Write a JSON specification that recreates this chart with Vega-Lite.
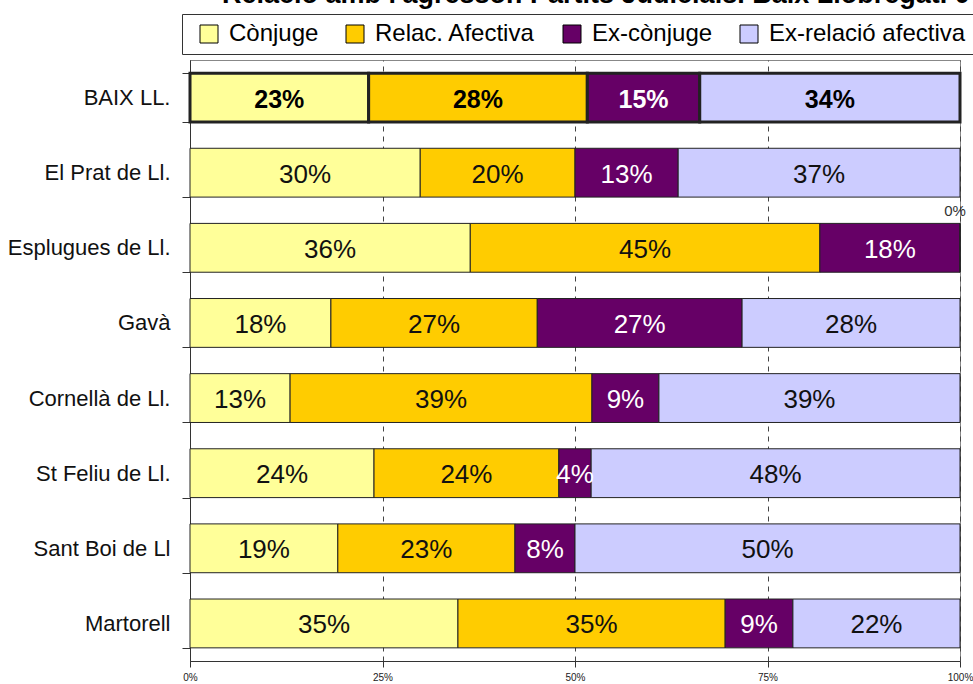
{
  "$schema": "https://vega.github.io/schema/vega-lite/v6.json",
  "width": 770,
  "height": 601,
  "autosize": {"type": "none"},
  "padding": {"left": 190, "top": 60, "right": 13, "bottom": 23},
  "background": "white",
  "title": {
    "text": "Relació amb l'agressor. Partits Judicials. Baix Llobregat. 07",
    "anchor": "start",
    "frame": "group",
    "orient": "top",
    "offset": 0,
    "dx": 32,
    "dy": 16,
    "font": "Liberation Sans, Arial, sans-serif",
    "fontSize": 27,
    "fontWeight": "bold",
    "color": "#000",
    "baseline": "alphabetic"
  },
  "data": {
    "values": [
      {"region": "BAIX LL.", "cat": "Cònjuge", "k": 1, "value": 0.232},
      {"region": "BAIX LL.", "cat": "Relac. Afectiva", "k": 2, "value": 0.284},
      {"region": "BAIX LL.", "cat": "Ex-cònjuge", "k": 3, "value": 0.146},
      {"region": "BAIX LL.", "cat": "Ex-relació afectiva", "k": 4, "value": 0.338},
      {"region": "El Prat de Ll.", "cat": "Cònjuge", "k": 1, "value": 0.299},
      {"region": "El Prat de Ll.", "cat": "Relac. Afectiva", "k": 2, "value": 0.201},
      {"region": "El Prat de Ll.", "cat": "Ex-cònjuge", "k": 3, "value": 0.134},
      {"region": "El Prat de Ll.", "cat": "Ex-relació afectiva", "k": 4, "value": 0.366},
      {"region": "Esplugues de Ll.", "cat": "Cònjuge", "k": 1, "value": 0.364},
      {"region": "Esplugues de Ll.", "cat": "Relac. Afectiva", "k": 2, "value": 0.454},
      {"region": "Esplugues de Ll.", "cat": "Ex-cònjuge", "k": 3, "value": 0.182},
      {"region": "Esplugues de Ll.", "cat": "Ex-relació afectiva", "k": 4, "value": 0},
      {"region": "Gavà", "cat": "Cònjuge", "k": 1, "value": 0.183},
      {"region": "Gavà", "cat": "Relac. Afectiva", "k": 2, "value": 0.268},
      {"region": "Gavà", "cat": "Ex-cònjuge", "k": 3, "value": 0.266},
      {"region": "Gavà", "cat": "Ex-relació afectiva", "k": 4, "value": 0.283},
      {"region": "Cornellà de Ll.", "cat": "Cònjuge", "k": 1, "value": 0.130},
      {"region": "Cornellà de Ll.", "cat": "Relac. Afectiva", "k": 2, "value": 0.392},
      {"region": "Cornellà de Ll.", "cat": "Ex-cònjuge", "k": 3, "value": 0.087},
      {"region": "Cornellà de Ll.", "cat": "Ex-relació afectiva", "k": 4, "value": 0.391},
      {"region": "St Feliu de Ll.", "cat": "Cònjuge", "k": 1, "value": 0.239},
      {"region": "St Feliu de Ll.", "cat": "Relac. Afectiva", "k": 2, "value": 0.240},
      {"region": "St Feliu de Ll.", "cat": "Ex-cònjuge", "k": 3, "value": 0.042},
      {"region": "St Feliu de Ll.", "cat": "Ex-relació afectiva", "k": 4, "value": 0.479},
      {"region": "Sant Boi de Ll", "cat": "Cònjuge", "k": 1, "value": 0.192},
      {"region": "Sant Boi de Ll", "cat": "Relac. Afectiva", "k": 2, "value": 0.230},
      {"region": "Sant Boi de Ll", "cat": "Ex-cònjuge", "k": 3, "value": 0.078},
      {"region": "Sant Boi de Ll", "cat": "Ex-relació afectiva", "k": 4, "value": 0.500},
      {"region": "Martorell", "cat": "Cònjuge", "k": 1, "value": 0.348},
      {"region": "Martorell", "cat": "Relac. Afectiva", "k": 2, "value": 0.347},
      {"region": "Martorell", "cat": "Ex-cònjuge", "k": 3, "value": 0.088},
      {"region": "Martorell", "cat": "Ex-relació afectiva", "k": 4, "value": 0.217}
    ]
  },
  "encoding": {
    "y": {
      "field": "region",
      "type": "nominal",
      "sort": null,
      "scale": {"paddingInner": 0.35, "paddingOuter": 0.175},
      "axis": {"title": null}
    }
  },
  "layer": [
    {
      "mark": {"type": "bar", "stroke": "#222"},
      "encoding": {
        "x": {
          "field": "value",
          "type": "quantitative",
          "stack": "zero",
          "scale": {"domain": [0, 1], "nice": false, "zero": true},
          "axis": {"title": null, "format": ".0%", "values": [0, 0.25, 0.5, 0.75, 1]}
        },
        "order": {"field": "k", "type": "quantitative"},
        "color": {
          "field": "cat",
          "type": "nominal",
          "scale": {
            "domain": ["Cònjuge", "Relac. Afectiva", "Ex-cònjuge", "Ex-relació afectiva"],
            "range": ["#FFFF99", "#FFCC00", "#660066", "#CCCCFF"]
          },
          "legend": {
            "title": " ",
            "titleOrient": "left",
            "titleFontSize": 2,
            "titlePadding": 7,
            "orient": "none",
            "legendX": -8,
            "legendY": -46,
            "direction": "horizontal",
            "symbolType": "square",
            "symbolSize": 324,
            "symbolStrokeColor": "#000",
            "symbolStrokeWidth": 1,
            "labelFont": "Liberation Sans, Arial, sans-serif",
            "labelFontSize": 24,
            "labelColor": "#000",
            "labelOffset": 8,
            "labelLimit": 400,
            "columnPadding": 24,
            "strokeColor": "#333",
            "padding": 8,
            "offset": 0
          }
        },
        "strokeWidth": {
          "condition": {"test": "datum.region === 'BAIX LL.'", "value": 3},
          "value": 1
        }
      }
    },
    {
      "transform": [{"filter": "datum.value > 0 && datum.region !== 'BAIX LL.'"}],
      "mark": {
        "type": "text",
        "font": "Liberation Sans, Arial, sans-serif",
        "fontSize": 26,
        "baseline": "middle",
        "align": "center",
        "dy": 2
      },
      "encoding": {
        "x": {"field": "value", "type": "quantitative", "stack": "zero", "bandPosition": 0.5},
        "order": {"field": "k", "type": "quantitative"},
        "text": {"field": "value", "type": "quantitative", "format": ".0%"},
        "color": {
          "condition": {"test": "datum.cat === 'Ex-cònjuge'", "value": "#ffffff"},
          "value": "#111111"
        }
      }
    },
    {
      "transform": [{"filter": "datum.value > 0 && datum.region === 'BAIX LL.'"}],
      "mark": {
        "type": "text",
        "font": "Liberation Sans, Arial, sans-serif",
        "fontSize": 25,
        "fontWeight": "bold",
        "baseline": "middle",
        "align": "center",
        "dy": 2
      },
      "encoding": {
        "x": {"field": "value", "type": "quantitative", "stack": "zero", "bandPosition": 0.5},
        "order": {"field": "k", "type": "quantitative"},
        "text": {"field": "value", "type": "quantitative", "format": ".0%"},
        "color": {
          "condition": {"test": "datum.cat === 'Ex-cònjuge'", "value": "#ffffff"},
          "value": "#000000"
        }
      }
    },
    {
      "transform": [
        {"stack": "value", "groupby": ["region"], "sort": [{"field": "k", "order": "ascending"}], "as": ["v0", "v1"]},
        {"filter": "datum.value === 0"}
      ],
      "mark": {
        "type": "text",
        "font": "Liberation Sans, Arial, sans-serif",
        "fontSize": 15,
        "baseline": "middle",
        "align": "center",
        "dx": -5,
        "dy": -37,
        "color": "#333"
      },
      "encoding": {
        "x": {"field": "v1", "type": "quantitative"},
        "text": {"field": "value", "type": "quantitative", "format": ".0%"}
      }
    }
  ],
  "config": {
    "view": {"stroke": "#888", "strokeWidth": 1},
    "axisY": {
      "domainColor": "#333",
      "tickColor": "#333",
      "tickSize": 8,
      "tickBand": "extent",
      "labelFont": "Liberation Sans, Arial, sans-serif",
      "labelFontSize": 22,
      "labelColor": "#111",
      "labelPadding": 12,
      "labelLimit": 300,
      "grid": false
    },
    "axisX": {
      "grid": true,
      "gridColor": "#444",
      "gridDash": [5, 5],
      "domainColor": "#333",
      "tickColor": "#333",
      "tickSize": 6,
      "labelFont": "Liberation Sans, Arial, sans-serif",
      "labelFontSize": 10,
      "labelColor": "#222",
      "labelPadding": 5,
      "labelBaseline": "top",
      "labelFlush": false
    }
  }
}
